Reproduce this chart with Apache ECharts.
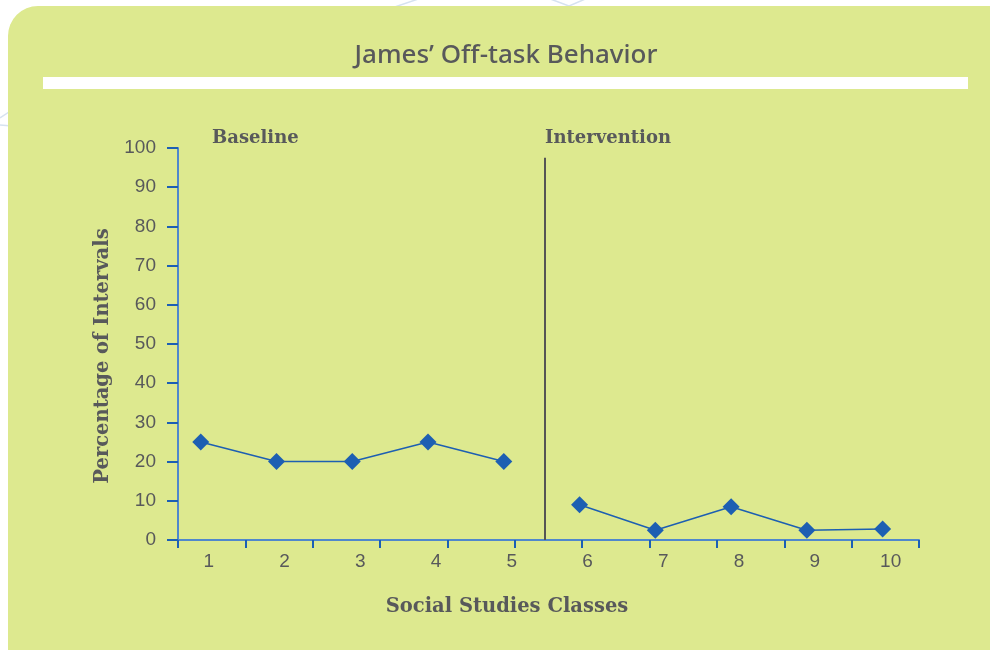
<!DOCTYPE html>
<html><head><meta charset="utf-8">
<script src="https://cdn.jsdelivr.net/npm/echarts@6/dist/echarts.min.js"></script>
<style>html,body{margin:0;padding:0;background:#fff}#c{width:990px;height:650px}</style>
</head><body><div id="c"></div>
<script>
// ---- data ----
const chartTitle = 'James\u2019 Off-task Behavior';
const xAxisTitle = 'Social Studies Classes';
const yAxisTitle = 'Percentage of Intervals';
const phaseLabels = ['Baseline', 'Intervention'];
const baselineSessions = [1, 2, 3, 4, 5];
const baselineValues = [25, 20, 20, 25, 20];
const interventionSessions = [6, 7, 8, 9, 10];
const interventionValues = [9, 2.5, 8.5, 2.5, 2.8];
const xTickLabels = [1, 2, 3, 4, 5, 6, 7, 8, 9, 10];
const xTickSlots = ['', '', '', '', '', '', '', '', '', '', ''];
const phaseChangeX = 5.54;
const phaseLineTop = 97.5;

// ---- style ----
const green = '#dde98f';
const textGray = '#58595b';
const blue = '#1d5fb2';
const axisBlue = '#4f87cc';
const tickBlue = '#1c5fb4';
const tickFont = '"Liberation Sans", "Open Sans", sans-serif';
const slab = '"DejaVu Serif", serif';

const chart = echarts.init(document.getElementById('c'), null, {renderer: 'canvas'});

const pairs = (xs, ys) => xs.map((x, i) => [x, ys[i]]);

const seriesStyle = {
  type: 'line',
  symbol: 'diamond',
  symbolSize: 17,
  lineStyle: {color: blue, width: 1.5},
  itemStyle: {color: blue},
  xAxisIndex: 0,
  yAxisIndex: 0,
  animation: false,
  z: 5
};

chart.setOption({
  backgroundColor: '#ffffff',
  animation: false,
  grid: {left: 178, right: 71, top: 148, bottom: 110},
  xAxis: [
    {
      type: 'value', min: 0.7, max: 10.48, position: 'bottom',
      axisLine: {show: false}, axisTick: {show: false}, splitLine: {show: false},
      axisLabel: {
        customValues: xTickLabels, color: textGray, fontSize: 19,
        fontFamily: tickFont, margin: 12, padding: [0, 0, 0, 16]
      }
    },
    {
      type: 'category', data: xTickSlots, boundaryGap: true, position: 'bottom',
      axisLine: {show: true, lineStyle: {color: axisBlue, width: 2}},
      axisTick: {show: true, length: 8, lineStyle: {color: tickBlue, width: 2}},
      axisLabel: {show: false}, splitLine: {show: false}
    }
  ],
  yAxis: {
    type: 'value', min: 0, max: 100, interval: 10,
    axisLine: {show: true, lineStyle: {color: axisBlue, width: 2}},
    axisTick: {show: true, length: 11, lineStyle: {color: tickBlue, width: 2}},
    axisLabel: {color: textGray, fontSize: 19, fontFamily: tickFont, margin: 22},
    splitLine: {show: false}
  },
  graphic: {
    elements: [
      {type: 'line', z: -20, shape: {x1: 380, y1: 12, x2: 430, y2: -5}, style: {stroke: '#d6e2f0', lineWidth: 1.5}},
      {type: 'line', z: -20, shape: {x1: 545, y1: -3, x2: 585, y2: 12}, style: {stroke: '#d6e2f0', lineWidth: 1.5}},
      {type: 'line', z: -20, shape: {x1: 555, y1: 12, x2: 590, y2: -3}, style: {stroke: '#d6e2f0', lineWidth: 1.5}},
      {type: 'line', z: -20, shape: {x1: 0, y1: 118, x2: 12, y2: 110}, style: {stroke: '#d6e2f0', lineWidth: 1.5}},
      {type: 'line', z: -20, shape: {x1: 0, y1: 125, x2: 12, y2: 126}, style: {stroke: '#d6e2f0', lineWidth: 1.5}},
      {type: 'rect', z: -10, shape: {x: 8, y: 6, width: 1000, height: 660, r: [30, 0, 0, 0]}, style: {fill: green}},
      {type: 'rect', z: -5, shape: {x: 43, y: 77, width: 925, height: 12}, style: {fill: '#ffffff'}},
      {type: 'text', x: 506, y: 56, style: {text: chartTitle, fill: textGray, font: '500 26px "Noto Sans", sans-serif', textAlign: 'center', textVerticalAlign: 'middle'}},
      {type: 'text', x: 212, y: 138, style: {text: phaseLabels[0], fill: textGray, font: 'bold 18px ' + slab, textAlign: 'left', textVerticalAlign: 'middle'}},
      {type: 'text', x: 545, y: 138, style: {text: phaseLabels[1], fill: textGray, font: 'bold 18px ' + slab, textAlign: 'left', textVerticalAlign: 'middle'}},
      {type: 'text', x: 507, y: 607, style: {text: xAxisTitle, fill: textGray, font: 'bold 19.5px ' + slab, textAlign: 'center', textVerticalAlign: 'middle'}},
      {type: 'text', x: 103, y: 356, rotation: Math.PI / 2, style: {text: yAxisTitle, fill: textGray, font: 'bold 19.5px ' + slab, textAlign: 'center', textVerticalAlign: 'middle'}}
    ]
  },
  series: [
    Object.assign({}, seriesStyle, {
      name: phaseLabels[0],
      data: pairs(baselineSessions, baselineValues),
      markLine: {
        silent: true, symbol: 'none', animation: false,
        label: {show: false},
        lineStyle: {color: '#555555', width: 2, type: 'solid'},
        data: [[{coord: [phaseChangeX, 0]}, {coord: [phaseChangeX, phaseLineTop]}]]
      }
    }),
    Object.assign({}, seriesStyle, {
      name: phaseLabels[1],
      data: pairs(interventionSessions, interventionValues)
    })
  ]
});
</script>
</body></html>
